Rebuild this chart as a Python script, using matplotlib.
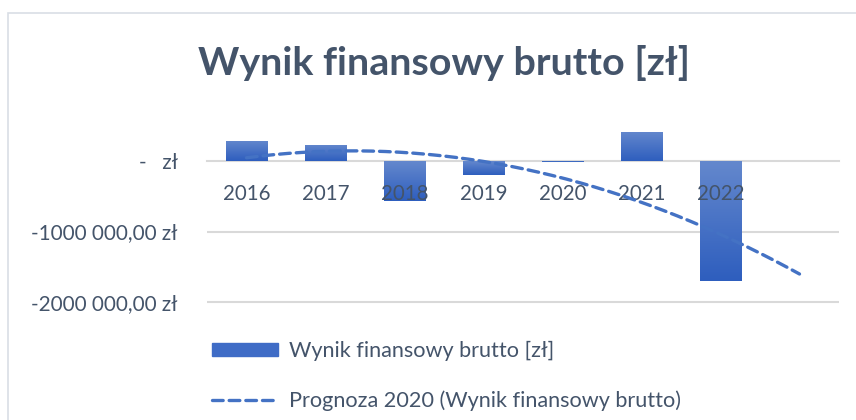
import numpy as np
import matplotlib
matplotlib.use("Agg")
import matplotlib.pyplot as plt
from matplotlib.patches import Rectangle
from matplotlib.colors import LinearSegmentedColormap

plt.rcParams["font.family"] = ["Lato", "DejaVu Sans"]

# data
years = ["2016", "2017", "2018", "2019", "2020", "2021", "2022"]
wynik = [290000, 230000, -560000, -195000, -15000, 415000, -1710000]
ytick_vals = [0, -1000000, -2000000]
ytick_labels = ["-   zł", "-1000 000,00 zł", "-2000 000,00 zł"]

textc = "#44546A"
gridc = "#D9D9D9"

fig = plt.figure(figsize=(8.56, 4.2), dpi=100)
fig.patches.append(Rectangle((8 / 856, -0.1), 1.2, (420 - 13) / 420 + 0.1,
                             transform=fig.transFigure, fill=False,
                             edgecolor="#D9DEE5", linewidth=1.2))

ax = fig.add_axes([207 / 856, 0.2729, (839 - 207) / 856, 0.4267])
x = np.arange(1, len(years) + 1)

# gridlines behind the bars
for v in ytick_vals[1:]:
    ax.axhline(v, color=gridc, linewidth=1.5, zorder=0)

bars = ax.bar(x, wynik, width=0.52, color="#3F6CC6", zorder=1)

# vertical gradient inside each bar: lighter at top, darker at bottom
cmap = LinearSegmentedColormap.from_list("g", ["#2E5EBE", "#6488CD"])
grad = np.linspace(0, 1, 256).reshape(-1, 1)
for b in bars:
    x0, y0 = b.get_x(), b.get_y()
    w, h = b.get_width(), b.get_height()
    lo, hi = min(y0, y0 + h), max(y0, y0 + h)
    im = ax.imshow(grad, extent=[x0, x0 + w, lo, hi], origin="lower",
                   cmap=cmap, aspect="auto", zorder=1.1)
    im.set_clip_path(b)
    b.set_alpha(0)

# polynomial (order 2) trendline, forecast one period forward
coef = np.polyfit(x, wynik, 2)
xt = np.linspace(1, len(years) + 1, 200)
trend, = ax.plot(xt, np.polyval(coef, xt), color="#4472C4", linewidth=2.4,
                 linestyle=(0, (3.2, 1.8)), dash_capstyle="round", zorder=3)

ax.set_xlim(0.5, len(years) + 1.5)
ax.set_ylim(-2050000, 500000)

ax.set_yticks(ytick_vals)
ax.set_yticklabels(ytick_labels)
ax.tick_params(axis="y", length=0, pad=21, labelsize=14.9, labelcolor=textc)

ax.spines["bottom"].set_position(("data", 0))
ax.spines["bottom"].set_color(gridc)
ax.spines["bottom"].set_linewidth(1.5)
ax.spines["bottom"].set_zorder(0.5)
for s in ["top", "left", "right"]:
    ax.spines[s].set_visible(False)
ax.set_xticks(x)
ax.set_xticklabels(years)
ax.tick_params(axis="x", length=0, pad=16, labelsize=14.8, labelcolor=textc)

fig.text(444 / 856, 1 - 63 / 420, "Wynik finansowy brutto [zł]",
         ha="center", va="center", fontsize=28.4, fontweight="bold", color=textc)

handles = [Rectangle((0, 0), 1, 1, color="#3F6CC6"), trend]
labels = ["Wynik finansowy brutto [zł]", "Prognoza 2020 (Wynik finansowy brutto)"]
fig.legend(handles, labels, loc="upper left",
           bbox_to_anchor=(212 / 856, 1 - 341 / 420), frameon=False,
           borderpad=0, borderaxespad=0,
           fontsize=15.6, labelcolor=textc, handlelength=3.05, handleheight=0.55,
           labelspacing=1.35, handletextpad=0.5)

fig.savefig("out.png", dpi=100)
